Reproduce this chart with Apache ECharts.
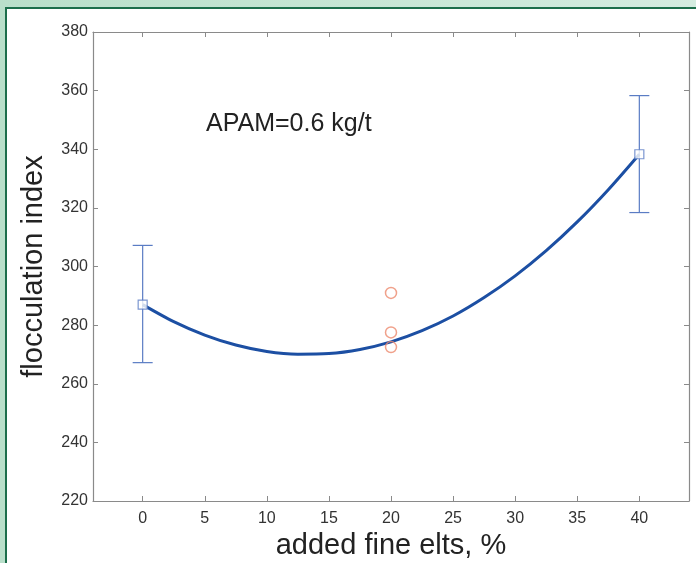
<!DOCTYPE html>
<html>
<head>
<meta charset="utf-8">
<script src="https://cdn.jsdelivr.net/npm/echarts@6/dist/echarts.min.js"></script>
<style>
  html, body { margin:0; padding:0; }
  body { width:696px; height:563px; overflow:hidden; position:relative;
         background: linear-gradient(90deg, #b9dfca 0%, #c6e6d4 50%, #d4ece0 100%); }
  #frame { position:absolute; left:5px; top:7px; width:700px; height:570px;
           background:#fff; border:2px solid #1c6e4b; box-sizing:border-box; }
  #chart { position:absolute; left:0; top:0; width:696px; height:563px; }
</style>
</head>
<body>
<div id="frame"></div>
<div id="chart"></div>
<script>
(function(){
  // ---- data ---------------------------------------------------------------
  const xTicks   = [0, 5, 10, 15, 20, 25, 30, 35, 40];
  const meanX    = [0, 40];
  const meanY    = [287, 338.3];
  const errLow   = [267.2, 318.4];
  const errHigh  = [307.2, 358.3];
  const repX     = [20, 20, 20];
  const repY     = [291, 277.5, 272.5];
  // fitted curve, read every 2.5 %
  const fitX     = [0, 2.5, 5, 7.5, 10, 12.5, 15, 17.5, 20, 22.5, 25, 27.5, 30, 32.5, 35, 37.5, 40];
  const fitY     = [287, 281.2, 276.6, 273.2, 271.0, 270.1, 270.3, 271.7, 274.3, 278.1, 283.1, 289.4, 296.8, 305.4, 315.2, 326.2, 338.3];

  const FONT = '"Liberation Sans", Arial, sans-serif';
  const AX = '#8a8a8a';
  const ERR = '#5a7cc4';

  const chart = echarts.init(document.getElementById('chart'));

  const tickCommon = { show:true, inside:true, length:5, lineStyle:{color:AX, width:1} };
  const lineCommon = { show:true, onZero:false, lineStyle:{color:AX, width:1.2} };

  const opt = {
    animation: false,
    backgroundColor: 'transparent',
    title: {
      text: 'APAM=0.6 kg/t', left: 201, top: 107,
      textStyle: { fontFamily: FONT, fontSize: 25, fontWeight: 'normal', color: '#222' }
    },
    grid: { left: 93, right: 7, top: 32, bottom: 62, containLabel: false, outerBoundsMode: 'none' },
    xAxis: [
      { type:'value', position:'bottom', min:-4, max:44,
        axisLine: lineCommon,
        axisTick: { ...tickCommon, customValues: xTicks },
        axisLabel: { customValues: xTicks, margin: 10, fontFamily: FONT, fontSize: 16, color:'#333' },
        splitLine: { show:false },
        name: 'added fine elts, %', nameLocation:'middle', nameGap: 29,
        nameTextStyle: { fontFamily: FONT, fontSize: 29, color:'#222' } },
      { type:'value', position:'top', min:-4, max:44,
        axisLine: lineCommon,
        axisTick: { ...tickCommon, customValues: xTicks },
        axisLabel: { show:false }, splitLine: { show:false } }
    ],
    yAxis: [
      { type:'value', position:'left', min:220, max:380, interval:20,
        axisLine: lineCommon, axisTick: tickCommon,
        axisLabel: { margin: 5, fontFamily: FONT, fontSize: 16, color:'#333' },
        splitLine: { show:false },
        name: 'flocculation index', nameLocation:'middle', nameGap: 45,
        nameTextStyle: { fontFamily: FONT, fontSize: 29, color:'#222' } },
      { type:'value', position:'right', min:220, max:380, interval:20,
        axisLine: lineCommon, axisTick: tickCommon,
        axisLabel: { show:false }, splitLine: { show:false } }
    ],
    series: [
      { // error bars
        type: 'custom', xAxisIndex:0, yAxisIndex:0, z: 2,
        data: meanX.map((x, i) => [x, errLow[i], errHigh[i]]),
        renderItem: function(params, api){
          const lo = api.coord([api.value(0), api.value(1)]);
          const hi = api.coord([api.value(0), api.value(2)]);
          const w = 10;
          const st = { stroke: ERR, lineWidth: 1.2 };
          return { type:'group', children: [
            { type:'line', shape:{x1:lo[0], y1:lo[1], x2:hi[0], y2:hi[1]}, style: st },
            { type:'line', shape:{x1:lo[0]-w, y1:lo[1], x2:lo[0]+w, y2:lo[1]}, style: st },
            { type:'line', shape:{x1:hi[0]-w, y1:hi[1], x2:hi[0]+w, y2:hi[1]}, style: st }
          ]};
        }
      },
      { // fitted curve
        type:'line', xAxisIndex:0, yAxisIndex:0, z: 3,
        data: fitX.map((x, i) => [x, fitY[i]]),
        smooth: 0.3, showSymbol: false,
        lineStyle: { color:'#1c4fa3', width: 3 }
      },
      { // means
        type:'scatter', xAxisIndex:0, yAxisIndex:0, z: 4,
        data: meanX.map((x, i) => [x, meanY[i]]),
        symbol:'rect', symbolSize: 9,
        itemStyle: { color:'#fff', borderColor: ERR, borderWidth: 1.2 }
      },
      { // replicates at 20 %
        type:'scatter', xAxisIndex:0, yAxisIndex:0, z: 4,
        data: repX.map((x, i) => [x, repY[i]]),
        symbol:'circle', symbolSize: 11,
        itemStyle: { color:'rgba(0,0,0,0)', borderColor:'#ec8a6e', borderWidth: 1.5 }
      }
    ]
  };
  chart.setOption(opt);
})();
</script>
</body>
</html>
